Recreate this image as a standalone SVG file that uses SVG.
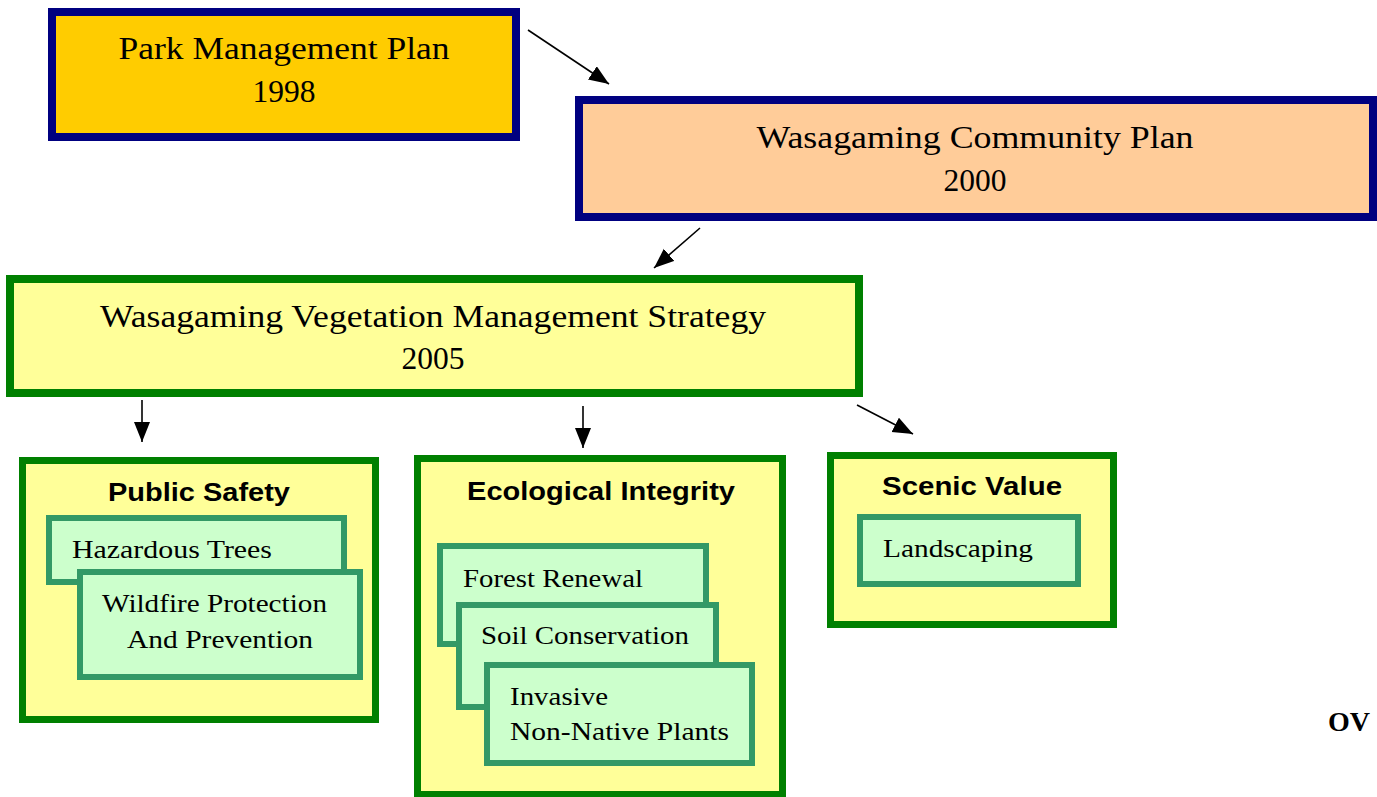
<svg xmlns="http://www.w3.org/2000/svg" width="1377" height="797" viewBox="0 0 1377 797">
<style>
.plan{stroke:#000080;stroke-width:8}
.main{stroke:#008000;stroke-width:8;fill:#FFFF99}
.cat{stroke:#008000;stroke-width:7;fill:#FFFF99}
.item{stroke:#339966;stroke-width:6;fill:#CCFFCC}
.serif{font-family:"Liberation Serif","Times New Roman",serif;fill:#000}
.big{font-size:32px}
.small{font-size:26px}
.title{font-family:"Liberation Sans",Arial,sans-serif;font-weight:bold;font-size:26px;fill:#000}
.conn line{stroke:#000;stroke-width:1.6}
</style>
<defs>
<marker id="ah" markerUnits="userSpaceOnUse" markerWidth="21" markerHeight="18" refX="20" refY="8" orient="auto">
<path d="M0,0 L20,8 L0,16 z" fill="#000"/>
</marker>
</defs>
<rect width="1377" height="797" fill="#fff"/>
<g id="park-plan">
<rect class="plan" x="52" y="12" width="464" height="125" fill="#FFCC00"/>
<text class="serif big" x="284" y="59" text-anchor="middle" textLength="331" lengthAdjust="spacingAndGlyphs">Park Management Plan</text>
<text class="serif big" x="284" y="102" text-anchor="middle" textLength="63" lengthAdjust="spacingAndGlyphs">1998</text>
</g>
<g id="community-plan">
<rect class="plan" x="579" y="100" width="794" height="117" fill="#FFCC99"/>
<text class="serif big" x="975" y="148" text-anchor="middle" textLength="437" lengthAdjust="spacingAndGlyphs">Wasagaming Community Plan</text>
<text class="serif big" x="975" y="191" text-anchor="middle" textLength="63" lengthAdjust="spacingAndGlyphs">2000</text>
</g>
<g id="vegetation-strategy">
<rect class="main" x="10" y="279" width="849" height="114"/>
<text class="serif big" x="433" y="327" text-anchor="middle" textLength="666" lengthAdjust="spacingAndGlyphs">Wasagaming Vegetation Management Strategy</text>
<text class="serif big" x="433" y="369" text-anchor="middle" textLength="63" lengthAdjust="spacingAndGlyphs">2005</text>
</g>
<g id="public-safety">
<rect class="cat" x="22.5" y="460.5" width="353" height="259"/>
<text class="title" x="108" y="501" textLength="182" lengthAdjust="spacingAndGlyphs">Public Safety</text>
<g id="hazardous-trees">
<rect class="item" x="49" y="518" width="295" height="64"/>
<text class="serif small" x="72" y="558" textLength="200" lengthAdjust="spacingAndGlyphs">Hazardous Trees</text>
</g>
<g id="wildfire">
<rect class="item" x="80" y="572" width="280" height="105"/>
<text class="serif small" x="102" y="612" textLength="225" lengthAdjust="spacingAndGlyphs">Wildfire Protection</text>
<text class="serif small" x="127" y="648" textLength="186" lengthAdjust="spacingAndGlyphs">And Prevention</text>
</g>
</g>
<g id="ecological-integrity">
<rect class="cat" x="417.5" y="458.5" width="365" height="336"/>
<text class="title" x="467" y="500" textLength="268" lengthAdjust="spacingAndGlyphs">Ecological Integrity</text>
<g id="forest-renewal">
<rect class="item" x="440" y="546" width="266" height="98"/>
<text class="serif small" x="463" y="587" textLength="180" lengthAdjust="spacingAndGlyphs">Forest Renewal</text>
</g>
<g id="soil-conservation">
<rect class="item" x="459" y="605" width="257" height="102"/>
<text class="serif small" x="481" y="644" textLength="208" lengthAdjust="spacingAndGlyphs">Soil Conservation</text>
</g>
<g id="invasive-plants">
<rect class="item" x="487" y="665" width="265" height="98"/>
<text class="serif small" x="510" y="705" textLength="98" lengthAdjust="spacingAndGlyphs">Invasive</text>
<text class="serif small" x="510" y="740" textLength="219" lengthAdjust="spacingAndGlyphs">Non-Native Plants</text>
</g>
</g>
<g id="scenic-value">
<rect class="cat" x="830.5" y="455.5" width="283" height="169"/>
<text class="title" x="882" y="495" textLength="180" lengthAdjust="spacingAndGlyphs">Scenic Value</text>
<g id="landscaping">
<rect class="item" x="860" y="517" width="218" height="67"/>
<text class="serif small" x="883" y="557" textLength="150" lengthAdjust="spacingAndGlyphs">Landscaping</text>
</g>
</g>
<g id="connectors" class="conn">
<line x1="528" y1="30" x2="609" y2="84" marker-end="url(#ah)"/>
<line x1="700" y1="228" x2="654" y2="268" marker-end="url(#ah)"/>
<line x1="142" y1="400" x2="142" y2="442" marker-end="url(#ah)"/>
<line x1="583" y1="406" x2="583" y2="448" marker-end="url(#ah)"/>
<line x1="857" y1="405" x2="913" y2="434" marker-end="url(#ah)"/>
</g>
<text x="1328" y="731" font-family="'Liberation Serif','Times New Roman',serif" font-weight="bold" font-size="28" fill="#000">OV</text>
</svg>
